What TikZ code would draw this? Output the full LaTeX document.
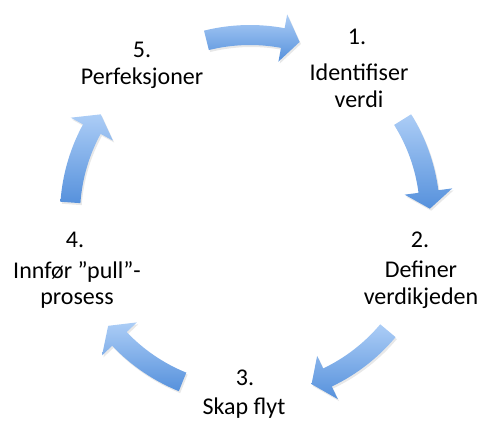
\documentclass[tikz,border=0pt]{standalone}
\usepackage{fontspec}
\setmainfont{Carlito}
\usetikzlibrary{shadows}
\definecolor{arrowlight}{RGB}{172,205,246}
\definecolor{arrowdark}{RGB}{86,145,220}
\tikzset{
  cyclearrow/.style={top color=arrowlight, bottom color=arrowdark, draw=none,
    drop shadow={shadow xshift=1pt, shadow yshift=-1.5pt, opacity=0.18}},
  steplabel/.style={font=\fontsize{18}{20}\selectfont, align=center, inner sep=0pt}
}
\begin{document}
\begin{tikzpicture}[x=0.75pt, y=0.75pt]
  \useasboundingbox (-250,-211) rectangle (231,215);

  % curved arrows round the cycle
  \foreach \a in {104,32,-40,-112,-184} {
    \pgfmathsetmacro{\b}{\a-30}
    \pgfmathsetmacro{\h}{\b+5.5}
    \path[cyclearrow] (\a:190) arc[start angle=\a, end angle=\h, radius=190]
      -- (\h:204) -- (\b:180) -- (\h:156) -- (\h:170)
      arc[start angle=\h, end angle=\a, radius=170] -- cycle;
  }

  % steps
  \node[steplabel] (num1) at (107,178) {1.};
  \node[steplabel] (lab1) at (109,129) {Identifiser\\verdi};

  \node[steplabel] (num2) at (170,-25) {2.};
  \node[steplabel] (lab2) at (171,-70) {Definer\\verdikjeden};

  \node[steplabel] (num3) at (-5,-163) {3.};
  \node[steplabel] (lab3) at (-6,-193) {Skap flyt};

  \node[steplabel] (num4) at (-175,-25) {4.};
  \node[steplabel] (lab4) at (-173,-70) {Innfør ”pull”-\\prosess};

  \node[steplabel] (num5) at (-108,165) {5.};
  \node[steplabel] (lab5) at (-108,137) {Perfeksjoner};
\end{tikzpicture}
\end{document}
